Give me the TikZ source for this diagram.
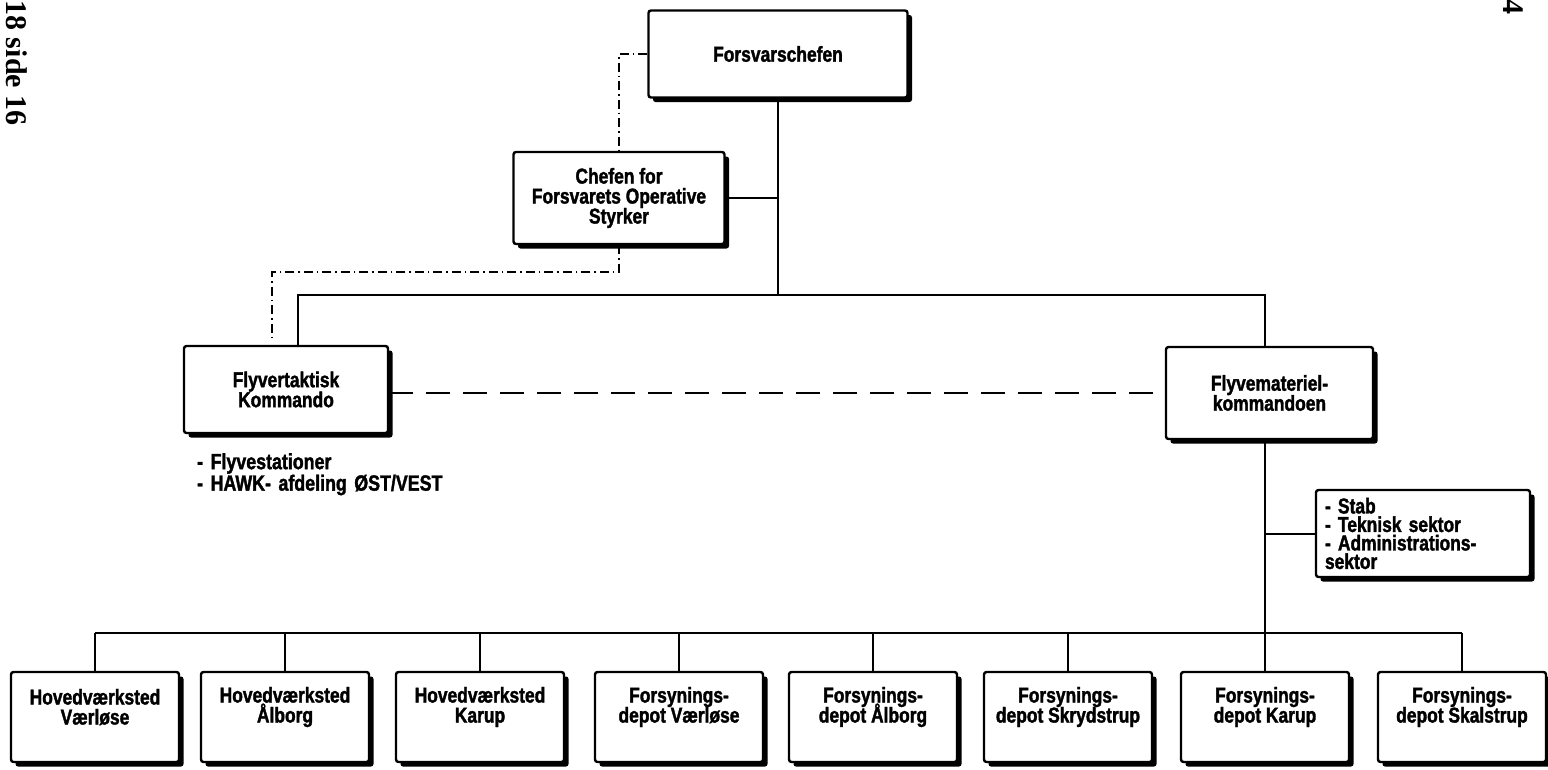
\documentclass[tikz,border=0pt]{standalone}
\usepackage{fontspec}
\usetikzlibrary{shadows}
\newfontfamily\labelfont[FakeStretch=0.81, BoldFeatures={FakeBold=1.6}]{Liberation Sans}
\newfontfamily\pagefont{Liberation Serif}
\newcommand\tightlines{\lineskiplimit=-50pt\relax}
\newcommand\widespaces{\spaceskip=7.5pt plus 1pt\relax}
\begin{document}
\begin{tikzpicture}[x=1pt,y=-1pt,
  box/.style={draw, line width=2.4pt, fill=white, rounded corners=2.5pt, inner sep=0pt,
    general shadow={fill=black, shadow xshift=4.5pt, shadow yshift=-4.5pt}},
  boxtext/.style={font=\labelfont\bfseries\fontsize{21.5}{20}\selectfont\tightlines,
    align=center},
  subbox/.style={box, minimum width=168pt, minimum height=90pt},
  conn/.style={line width=2pt},
  dashdot/.style={line width=1.6pt, dash pattern=on 9pt off 4pt on 1.5pt off 4pt},
  liaison/.style={line width=1.8pt, dash pattern=on 24pt off 13pt},
  pagemark/.style={font=\pagefont\bfseries\fontsize{30}{30}\selectfont, inner sep=0pt}
]
\useasboundingbox (0,0) rectangle (1548,769);

% page marks
\node[pagemark, rotate=-90] (pg) at (17,63) {18 side 16};
\node[pagemark, rotate=-90] (pn) at (1513,7) {4};

% command level
\node[box, boxtext, minimum width=259pt, minimum height=87pt] (fc) at (778,54) {Forsvarschefen};
\node[box, boxtext, minimum width=211pt, minimum height=92pt] (ch) at (619,198)
  {Chefen for\\Forsvarets Operative\\Styrker};
\node[box, boxtext, minimum width=204pt, minimum height=87pt] (ftk) at (286,389.5)
  {Flyvertaktisk\\Kommando};
\node[box, boxtext, minimum width=207pt, minimum height=92pt] (fmk) at (1269.5,393)
  {Flyvemateriel-\\kommandoen};
\node[box, boxtext, align=left,
  font=\labelfont\bfseries\fontsize{21.5}{18.5}\selectfont\tightlines,
  text width=196pt, inner xsep=9pt, minimum height=87pt] (stab) at (1423,533.5)
  {- Stab\\- Teknisk sektor\\- Administrations-\\sektor};

% units below FTK
\node[boxtext, align=left,
  font=\labelfont\bfseries\fontsize{22}{19}\selectfont\widespaces,
  inner sep=0pt, anchor=north west] (ftklist) at (197,453)
  {- Flyvestationer\\- HAWK- afdeling ØST/VEST};

% subordinate units
\foreach \i/\x/\t in {1/95/{Hovedværksted\\Værløse},
                      2/285/{Hovedværksted\\Ålborg},
                      3/480/{Hovedværksted\\Karup},
                      4/679/{Forsynings-\\depot Værløse},
                      5/873/{Forsynings-\\depot Ålborg},
                      6/1068/{Forsynings-\\depot Skrydstrup},
                      7/1265/{Forsynings-\\depot Karup},
                      8/1462/{Forsynings-\\depot Skalstrup}} {
  \node[subbox] (b\i) at (\x,717) {};
  \node[boxtext, inner sep=0pt] (t\i) at (\x,707) {\t};
}

% junction points
\coordinate (ftkin) at (298,295);
\coordinate (rt) at (1265,633);
\coordinate (dd) at (272,272);

% solid command lines
\draw[conn] (fc.south) -- (fc.south |- ftkin);
\draw[conn] (ch.east) -- (ch.east -| fc.south);
\draw[conn] (ftk.north -| ftkin) -- (ftkin) -| (fmk.north -| rt);
\draw[conn] (fmk.south -| rt) -- (rt);
\draw[conn] (stab.west -| rt) -- (stab.west);
\draw[conn] (b1.north |- rt) -- (b8.north |- rt);
\foreach \i in {1,...,8} {
  \draw[conn] (b\i.north |- rt) -- (b\i.north);
}

% dash-dot line via the operative commander
\draw[dashdot] (fc.west) -| (ch.north);
\draw[dashdot, shorten >=7pt] (ch.south) |- (dd) -- (ftk.north -| dd);

% dashed liaison between the two commands
\draw[liaison] (ftk.east |- fmk.west) -- (fmk.west);
\end{tikzpicture}
\end{document}
